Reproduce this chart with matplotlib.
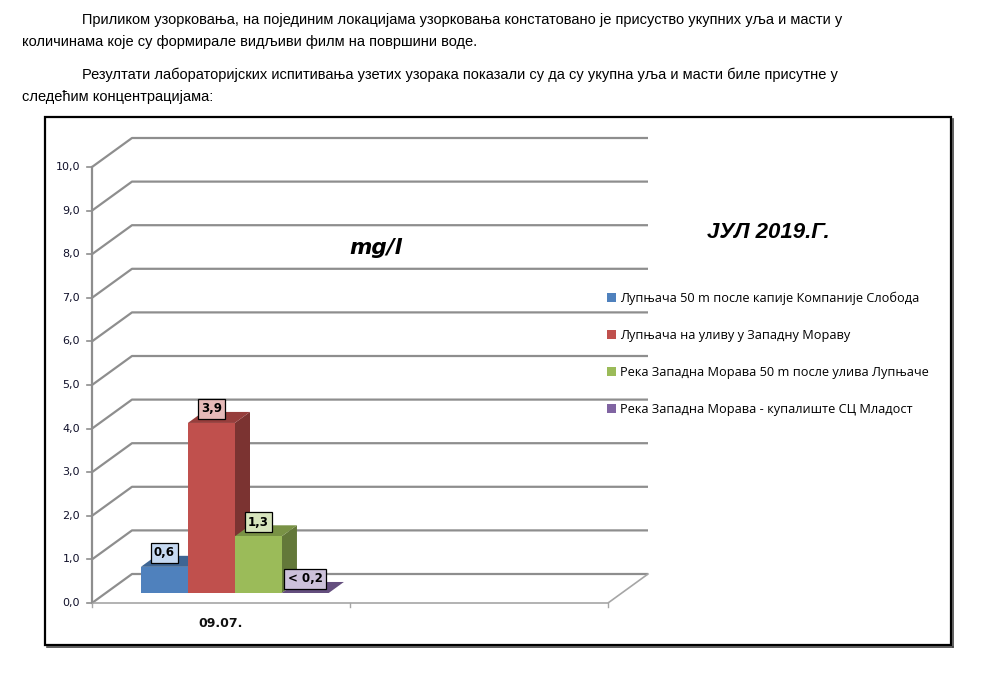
import numpy as np
import matplotlib
matplotlib.use("Agg")
import matplotlib.pyplot as plt
from matplotlib.patches import Polygon, Rectangle, Patch
from matplotlib.lines import Line2D
import matplotlib.colors as mcolors

# ---------------- data ----------------
categories = ["09.07.", ""]
series_names = [
    "Лупњача 50 m после капије Компаније Слобода",
    "Лупњача на уливу у Западну Мораву",
    "Река Западна Морава 50 m после улива Лупњаче",
    "Река Западна Морава - купалиште СЦ Младост",
]
values = [0.6, 3.9, 1.3, 0.0]
value_labels = ["0,6", "3,9", "1,3", "< 0,2"]
y_ticks = [0, 1, 2, 3, 4, 5, 6, 7, 8, 9, 10]
y_tick_labels = ["0,0", "1,0", "2,0", "3,0", "4,0", "5,0",
                 "6,0", "7,0", "8,0", "9,0", "10,0"]
chart_title = "ЈУЛ 2019.Г."
unit_label = "mg/l"
paragraph_lines = [
    ("Приликом узорковања, на појединим локацијама узорковања констатовано је присуство укупних уља и масти у", True),
    ("количинама које су формирале видљиви филм на површини воде.", False),
    ("Резултати лабораторијских испитивања узетих узорака показали су да су укупна уља и масти биле присутне у", True),
    ("следећим концентрацијама:", False),
]

# ---------------- style ----------------
front_colors = ["#4F81BD", "#C0504D", "#9BBB59", "#8064A2"]
label_fills = ["#C6D9F1", "#E6B9B8", "#D7E4BD", "#CCC1DA"]
grid_color = "#8E8E8E"

def shade(c, f):
    r, g, b = mcolors.to_rgb(c)
    return (r * f, g * f, b * f)

W, H = 996, 684
fig = plt.figure(figsize=(W / 100, H / 100), dpi=100)

# axes: x in category units, y in value units
X0PX, XSCALE = 92, 258.0
Y0PX, YSCALE = 603, 43.6
xlim = (-0.2, 2.3)
ylim = (-0.8, 11.2)
left_px = X0PX + xlim[0] * XSCALE
right_px = X0PX + xlim[1] * XSCALE
bot_px = Y0PX - ylim[0] * YSCALE
top_px = Y0PX - ylim[1] * YSCALE
ax = fig.add_axes([left_px / W, 1 - bot_px / H,
                   (right_px - left_px) / W, (bot_px - top_px) / H])
ax.set_xlim(*xlim)
ax.set_ylim(*ylim)
ax.axis("off")

n_slots = len(categories)
DX, DY = 40 / XSCALE, 29 / YSCALE   # full depth offset in data units

# back wall gridlines
for v in y_ticks:
    ax.plot([0, DX, n_slots + DX], [v, v + DY, v + DY], color=grid_color,
            lw=1.6, solid_capstyle="butt", zorder=1)
# floor front & right edges
ax.plot([0, n_slots, n_slots + DX], [0, 0, DY], color="#A6A6A6", lw=1.2, zorder=1)
# front value axis
ax.plot([0, 0], [0, y_ticks[-1]], color=grid_color, lw=1.6, zorder=2)
for v, lab in zip(y_ticks, y_tick_labels):
    ax.plot([-0.018, 0], [v, v], color=grid_color, lw=1.2, zorder=2)
    ax.text(-0.046, v, lab, ha="right", va="center", fontsize=8,
            color="#10102a", family="DejaVu Sans")
# category ticks & labels
for i in range(n_slots + 1):
    ax.plot([i, i], [0, -0.1], color="#A6A6A6", lw=1.0, zorder=2)
for i, c in enumerate(categories):
    ax.text(i + 0.5, -0.46, c, ha="center", va="center", fontsize=9,
            fontweight="bold", color="#111111", family="DejaVu Sans")

# bars (only first category has data)
f0, f1 = 0.345, 0.725
bw = 0.182
ddx, ddy = (f1 - f0) * DX, (f1 - f0) * DY
z = 3
for i, (v, col) in enumerate(zip(values, front_colors)):
    x0 = 0.5 - 2 * bw + i * bw + f0 * DX
    y0 = f0 * DY
    x1 = x0 + bw
    top = y0 + v
    side = Polygon([(x1, y0), (x1 + ddx, y0 + ddy), (x1 + ddx, top + ddy), (x1, top)],
                   closed=True, fc=shade(col, 0.64), ec="none", zorder=z)
    topf = Polygon([(x0, top), (x1, top), (x1 + ddx, top + ddy), (x0 + ddx, top + ddy)],
                   closed=True, fc=shade(col, 0.78), ec="none", zorder=z + 1)
    front = Rectangle((x0, y0), bw, v, fc=col, ec="none", zorder=z + 2)
    ax.add_patch(side)
    ax.add_patch(topf)
    ax.add_patch(front)
    z += 3
for i, (v, lab, fill) in enumerate(zip(values, value_labels, label_fills)):
    x0 = 0.5 - 2 * bw + i * bw + f0 * DX
    top = f0 * DY + v
    ax.text(x0 + bw / 2, top + ddy + 0.07, lab, ha="center", va="center",
            fontsize=8.5, fontweight="bold", color="black", family="DejaVu Sans",
            zorder=50,
            bbox=dict(boxstyle="square,pad=0.28", fc=fill, ec="black", lw=0.9))

# titles
fig.text(376 / W, 1 - 254 / H, unit_label, ha="center", va="baseline",
         fontsize=15.5, fontweight="bold", style="italic", family="DejaVu Sans")
fig.text(768 / W, 1 - 232 / H, chart_title, ha="center", va="center",
         fontsize=16, fontweight="bold", style="italic", family="Liberation Sans")

# legend
handles = [Patch(facecolor=c, edgecolor="none") for c in front_colors]
fig.legend(handles, series_names, loc="upper left",
           bbox_to_anchor=(607 / W, 1 - 292 / H), frameon=False,
           handlelength=0.7, handleheight=0.7, handletextpad=0.35,
           labelspacing=1.87, borderaxespad=0, borderpad=0,
           prop={"family": "Open Sans", "size": 9.2})

# chart frame with slight shadow
fig.add_artist(Rectangle((45 / W, 1 - 645 / H), (951 - 45) / W, (645 - 117) / H,
                         transform=fig.transFigure, fill=False, ec="black", lw=1.6))
fig.add_artist(Line2D([952.5 / W, 952.5 / W], [1 - 647 / H, 1 - 119 / H],
                      transform=fig.transFigure, color="#444444", lw=1.2))
fig.add_artist(Line2D([47 / W, 952.5 / W], [1 - 646.5 / H, 1 - 646.5 / H],
                      transform=fig.transFigure, color="#444444", lw=1.2))

# paragraph text
ys = [20, 42, 75, 97]
for (txt, indent), y in zip(paragraph_lines, ys):
    fig.text((82 if indent else 22) / W, 1 - y / H, txt, ha="left", va="center",
             fontsize=10.5, family="Liberation Sans", color="black")

fig.savefig("out.png", dpi=100)
